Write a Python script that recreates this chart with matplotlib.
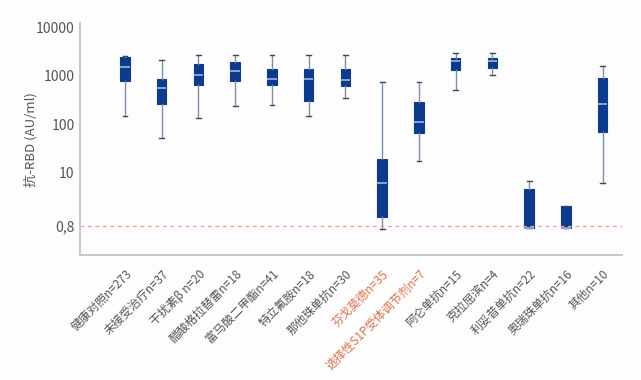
import matplotlib
matplotlib.use("Agg")
import matplotlib.pyplot as plt

plt.rcParams["font.family"] = ["Noto Sans CJK SC", "DejaVu Sans"]

# groups shown along the x axis
labels = ["健康对照n=273", "未接受治疗n=37", "干扰素β n=20", "醋酸格拉替雷n=18",
          "富马酸二甲酯n=41", "特立氟胺n=18", "那他珠单抗n=30", "芬戈莫德n=35",
          "选择性S1P受体调节剂n=7", "阿仑单抗n=15", "克拉屈滨n=4", "利妥昔单抗n=22",
          "奥瑞珠单抗n=16", "其他n=10"]
highlight = ["芬戈莫德n=35", "选择性S1P受体调节剂n=7"]

# box statistics (AU/ml)
whislo = [144, 52, 133, 234, 245, 144, 342, 0.69, 17, 515, 1028, 0.71, 0.71, 6.05]
q1 = [774, 254, 624, 774, 632, 292, 595, 1.23, 65, 1303, 1432, 0.71, 0.71, 69.5]
med = [1500, 556, 1047, 1225, 851, 851, 800, 6.15, 111, 1966, 1966, 0.71, 0.71, 261]
q3 = [2410, 851, 1762, 1900, 1345, 1345, 1345, 19.4, 279, 2265, 2265, 4.69, 2.0, 881]
whishi = [2520, 2060, 2610, 2610, 2610, 2610, 2610, 728, 728, 2910, 2910, 6.76, 2.0, 1552]

threshold = 0.8
yticks = [0.8, 10, 100, 1000, 10000]
yticklabels = ["0,8", "10", "100", "1000", "10000"]

stats = []
for i in range(len(labels)):
    stats.append({"whislo": whislo[i], "q1": q1[i], "med": med[i],
                  "q3": q3[i], "whishi": whishi[i], "fliers": []})

fig = plt.figure(figsize=(6.41, 3.80), dpi=100, facecolor="#fdfdfd")
ax = fig.add_axes([0.125, 0.329, 0.845, 0.61])
ax.set_facecolor("#fdfdfd")

ax.bxp(stats, positions=range(len(labels)), widths=0.26, patch_artist=True,
       showfliers=False,
       boxprops=dict(facecolor="#0b3a8e", edgecolor="#0b3a8e", linewidth=0.8),
       medianprops=dict(color="#8aa3c9", linewidth=1.4),
       whiskerprops=dict(color="#7d8fae", linewidth=1.0),
       capprops=dict(color="#3d4a5e", linewidth=1.0))

ax.axhline(threshold, color="#f0a483", linewidth=0.9, linestyle=(0, (3, 3)))

ax.set_yscale("log")
ax.set_ylim(0.2, 12000)
ax.set_xlim(-1.22, 13.52)
ax.set_yticks(yticks)
ax.set_yticklabels(yticklabels)
ax.minorticks_off()
ax.tick_params(axis="y", length=0, labelsize=10, labelcolor="#555555", pad=4)
ax.tick_params(axis="x", length=0, pad=9)
ax.set_ylabel("抗-RBD (AU/ml)", fontsize=9.5, color="#555555")
ax.yaxis.set_label_coords(-0.079, 0.5)

ax.set_xticks(range(len(labels)))
ax.set_xticklabels(labels, rotation=45, ha="right", rotation_mode="anchor",
                   fontsize=8.5)
for t in ax.get_xticklabels():
    t.set_color("#e0714b" if t.get_text() in highlight else "#555555")

for s in ["top", "right"]:
    ax.spines[s].set_visible(False)
for s in ["left", "bottom"]:
    ax.spines[s].set_color("#c4c4c4")
    ax.spines[s].set_linewidth(1.3)

fig.savefig("out.png", dpi=100, facecolor=fig.get_facecolor())
